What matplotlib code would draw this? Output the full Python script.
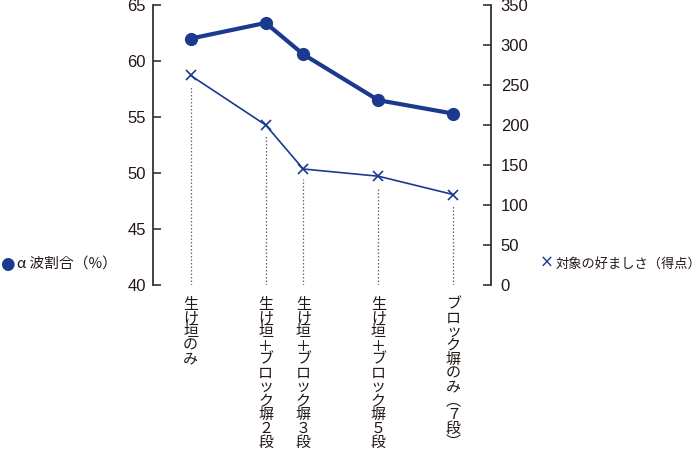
import matplotlib
matplotlib.use("Agg")
import matplotlib.pyplot as plt

plt.rcParams['font.family'] = ['Noto Sans CJK JP', 'DejaVu Sans']

# ---- data ----
categories = ["生け垣のみ", "生け垣＋ブロック塀２段", "生け垣＋ブロック塀３段",
              "生け垣＋ブロック塀５段", "ブロック塀のみ（７段）"]
block_stages = [0, 2, 3, 5, 7]
alpha_ratio = [62.0, 63.4, 60.6, 56.5, 55.3]          # α波割合（%）
preference = [262, 200, 145, 136, 113]                 # 対象の好ましさ（得点）
left_ticks = [40, 45, 50, 55, 60, 65]
right_ticks = [0, 50, 100, 150, 200, 250, 300, 350]
legend_left = "α 波割合（%）"
legend_right = "対象の好ましさ（得点）"

navy = "#1b3a8f"
ink = "#231815"
num_font = ['Liberation Sans Narrow', 'Liberation Sans', 'DejaVu Sans']

fig = plt.figure(figsize=(7.0, 4.53), dpi=100)
ax = fig.add_axes([153/700, 1-285/453, (491-153)/700, (285-5)/453])
ax2 = ax.twinx()

ax.set_xlim(-1, 8)
ax.set_ylim(40, 65)
ax2.set_ylim(0, 350)

for a in (ax, ax2):
    for s in ("top", "bottom"):
        a.spines[s].set_visible(False)
    a.spines["left"].set_color("#333333")
    a.spines["right"].set_color("#333333")
    a.spines["left"].set_linewidth(1.3)
    a.spines["right"].set_linewidth(1.3)
ax.spines["right"].set_visible(False)
ax2.spines["left"].set_visible(False)

ax.set_xticks([])
ax.set_yticks(left_ticks)
ax.set_yticklabels([str(t) for t in left_ticks], family=num_font, fontsize=12, color=ink)
ax.tick_params(axis='y', direction='in', length=6, width=1.2, color="#333333", pad=5)
ax2.set_yticks(right_ticks)
ax2.set_yticklabels([str(t) for t in right_ticks], family=num_font, fontsize=12, color=ink)
ax2.tick_params(axis='y', direction='in', length=6, width=1.2, color="#333333", pad=7)

# dotted guide lines below the × markers
for x, v in zip(block_stages, preference):
    ax2.plot([x, x], [0, v - 13], linestyle=(0, (1.2, 1.6)), color="#666666", lw=0.9, zorder=1)

ax.plot(block_stages, alpha_ratio, color=navy, lw=3.0, marker='o', markersize=8.5,
        markerfacecolor=navy, markeredgecolor=navy, zorder=3)
ax2.plot(block_stages, preference, color=navy, lw=1.2, marker='x', markersize=7.5,
         markeredgewidth=1.2, zorder=3)

# vertical category labels
def vertical(s):
    s = s.replace("（", "︵").replace("）", "︶")
    return "\n".join(s)

for x, lab in zip(block_stages, categories):
    ax.text(x, -0.045, vertical(lab), transform=ax.get_xaxis_transform(),
            ha='center', va='top', fontsize=10.8, color=ink, linespacing=0.98)

# legend-like labels
fig.text(7/700, 1-264/453, "●", color=navy, fontsize=12, ha='center', va='center',
         family=['DejaVu Sans'])
fig.text(17/700, 1-265/453, legend_left, color=ink, fontsize=10.6, ha='left', va='center')
fig.text(540/700, 1-263/453, "×", color=navy, fontsize=12, ha='left', va='center',
         family=['DejaVu Sans'])
fig.text(556/700, 1-264/453, legend_right, color=ink, fontsize=9.5, ha='left', va='center')

fig.savefig("out.png", dpi=100)
